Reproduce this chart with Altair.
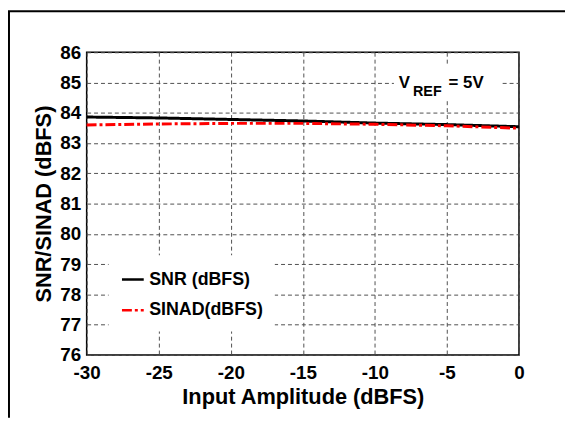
import altair as alt
import pandas as pd

# ---- data ----
amplitude = [-30, -25, -20, -15, -10, -5, 0]
snr = [83.86, 83.83, 83.78, 83.73, 83.66, 83.61, 83.54]
sinad = [83.60, 83.63, 83.65, 83.65, 83.62, 83.57, 83.49]
series_names = ["SNR (dBFS)", "SINAD(dBFS)"]
x_ticks = [-30, -25, -20, -15, -10, -5, 0]
y_ticks = [76, 77, 78, 79, 80, 81, 82, 83, 84, 85, 86]
annot_pos = {"amp": [-8.35], "val": [84.82]}
annot_box = {"amp": [-8.68], "amp2": [-1.2], "val": [84.45], "val2": [85.59]}

FONT = "Liberation Sans"

rows = []
for a, v in zip(amplitude, snr):
    rows.append({"amp": a, "val": v, "series": series_names[0]})
for a, v in zip(amplitude, sinad):
    rows.append({"amp": a, "val": v, "series": series_names[1]})
df = pd.DataFrame(rows)

W, H = 437, 306
PL, PT, PR, PB = 79.5, 42.5, 46.5, 63.5

x_enc = alt.X(
    "amp:Q",
    scale=alt.Scale(domain=[-30, 0], nice=False),
    axis=alt.Axis(
        title="Input Amplitude (dBFS)",
        values=x_ticks,
        labelExpr="'' + datum.value",
        ticks=False,
        domain=False,
        grid=True,
        gridColor="#505050",
        gridDash=[4, 3],
        gridWidth=1,
        labelFont=FONT,
        labelFontSize=19,
        labelFontWeight="bold",
        labelColor="black",
        labelBaseline="alphabetic",
        labelPadding=24,
        labelFlush=False,
        labelOverlap=False,
        titleFont=FONT,
        titleFontSize=22,
        titleFontWeight="bold",
        titleColor="black",
        titleBaseline="alphabetic",
        titleY=49.5,
    ),
)
y_enc = alt.Y(
    "val:Q",
    scale=alt.Scale(domain=[76, 86], nice=False, zero=False),
    axis=alt.Axis(
        title="SNR/SINAD (dBFS)",
        values=y_ticks,
        ticks=False,
        domain=False,
        grid=True,
        gridColor="#505050",
        gridDash=[4, 3],
        gridWidth=1,
        labelFont=FONT,
        labelFontSize=19,
        labelFontWeight="bold",
        labelColor="black",
        labelPadding=6,
        labelFlush=False,
        labelOverlap=False,
        titleFont=FONT,
        titleFontSize=22,
        titleFontWeight="bold",
        titleColor="black",
        titleBaseline="alphabetic",
        titleX=-36.5,
        titleY=153,
    ),
)

legend_kw = dict(
    title=None,
    orient="none",
    legendX=22.2,
    legendY=205.3,
    fillColor="white",
    padding=12,
    symbolType="stroke",
    symbolSize=484,
    symbolStrokeWidth=2.5,
    labelFont=FONT,
    labelFontSize=18,
    labelFontWeight="bold",
    labelColor="black",
    labelOffset=4,
    rowPadding=9,
)
color_enc = alt.Color(
    "series:N",
    scale=alt.Scale(domain=series_names, range=["black", "#ff0000"]),
    legend=alt.Legend(**legend_kw),
)
dash_enc = alt.StrokeDash(
    "series:N",
    scale=alt.Scale(domain=series_names, range=[[1, 0], [10, 3, 3, 3]]),
    legend=alt.Legend(**legend_kw),
)

base = alt.Chart(df)
snr_line = base.transform_filter(alt.datum.series == series_names[0]).mark_line(
    strokeWidth=3
).encode(x=x_enc, y=y_enc, color=color_enc, strokeDash=dash_enc)
sinad_line = base.transform_filter(alt.datum.series == series_names[1]).mark_line(
    strokeWidth=3
).encode(x=x_enc, y=y_enc, color=color_enc, strokeDash=dash_enc)

# white box behind the annotation (breaks the grid like the reference)
box = alt.Chart(pd.DataFrame(annot_box)).mark_rect(color="white").encode(
    x=x_enc, x2="amp2:Q", y=y_enc, y2="val2:Q"
)

ann_base = alt.Chart(pd.DataFrame(annot_pos))
t_v = ann_base.mark_text(
    text="V", font=FONT, fontSize=17, fontWeight="bold", align="left",
    baseline="alphabetic", color="black"
).encode(x=x_enc, y=y_enc)
t_ref = ann_base.mark_text(
    text="REF", font=FONT, fontSize=14.5, fontWeight="bold", align="left",
    baseline="alphabetic", color="black", dx=14.5, dy=8.5
).encode(x=x_enc, y=y_enc)
t_eq = ann_base.mark_text(
    text="= 5V", font=FONT, fontSize=17, fontWeight="bold", align="left",
    baseline="alphabetic", color="black", dx=50.5
).encode(x=x_enc, y=y_enc)

one = alt.Chart(pd.DataFrame({"k": [0]}))
top_border = one.mark_rule(color="black", strokeWidth=2).encode(
    x=alt.value(-PL), x2=alt.value(W + PR), y=alt.value(-PT + 1)
)
left_border = one.mark_rule(color="black", strokeWidth=2).encode(
    x=alt.value(-PL + 1), y=alt.value(-PT + 1), y2=alt.value(H + PB)
)

chart = alt.layer(
    snr_line, sinad_line, box, t_v, t_ref, t_eq, top_border, left_border
).properties(
    width=W,
    height=H,
    autosize=alt.AutoSizeParams(type="none"),
    padding={"left": PL, "top": PT, "right": PR, "bottom": PB},
    background="white",
).configure_view(
    stroke="black", strokeWidth=1.5
)

chart.save("out.html", embed_options={"renderer": "svg", "actions": False})
